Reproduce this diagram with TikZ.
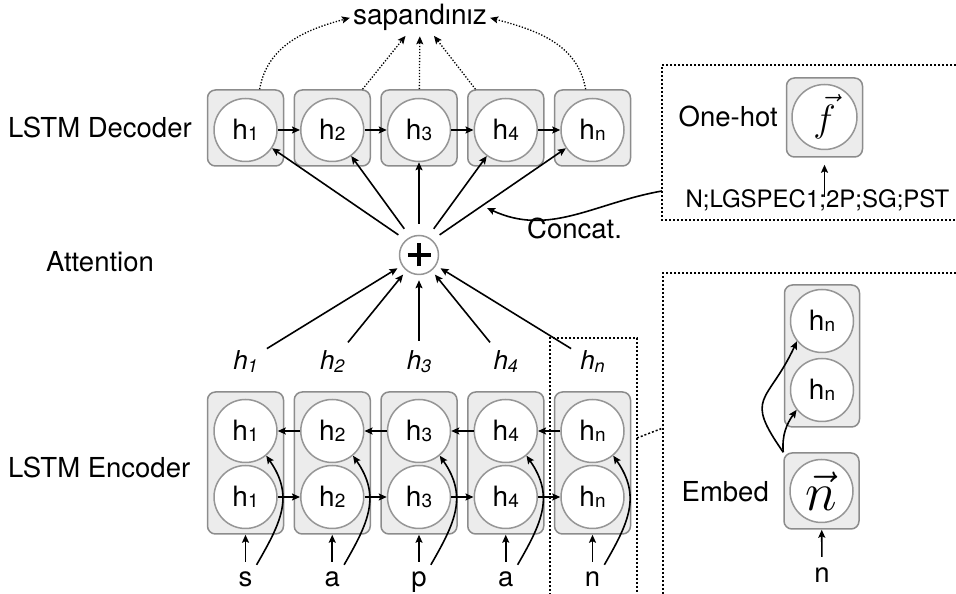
\RequirePackage{fix-cm}
\documentclass[tikz,border=0pt]{standalone}
\usepackage{fontspec}
\setmainfont{TeX Gyre Heros}
\usetikzlibrary{arrows.meta}
\definecolor{boxfill}{RGB}{236,236,236}
\definecolor{boxgray}{RGB}{140,140,140}
\definecolor{cellgray}{RGB}{150,150,150}
\newcommand\LblFont{\fontsize{27.5}{30}\selectfont}
\newcommand\SapFont{\fontsize{28}{30}\selectfont}
\newcommand\CellFont{\fontsize{28}{30}\selectfont}
\newcommand\FeatFont{\fontsize{24}{26}\selectfont}
\newcommand\SubH[1]{h\raisebox{-1.5pt}{\fontsize{19}{19}\selectfont #1}}
\newcommand\ItH[1]{{\fontsize{26}{28}\selectfont\itshape h\raisebox{-2.5pt}{\fontsize{18}{18}\selectfont #1}}}
\tikzset{
  cbox/.style={draw=boxgray, fill=boxfill, line width=1.5pt, rounded corners=8pt,
    minimum width=76pt, minimum height=76pt, inner sep=0pt},
  tbox/.style={cbox, minimum height=142pt},
  cell/.style={circle, draw=cellgray, fill=white, line width=1.5pt, minimum size=63pt,
    inner sep=0pt, font=\CellFont},
  arr/.style={-{Stealth[length=8pt,width=7pt,inset=1.5pt]}, line width=1.6pt},
  dotarr/.style={arr, line width=1.3pt, dash pattern=on 1.3pt off 1.7pt},
  dotbox/.style={line width=1.5pt, dash pattern=on 2pt off 2pt},
  lbl/.style={font=\LblFont, inner sep=0pt},
  letter/.style={font=\LblFont, anchor=base, text height=14pt, text depth=5pt,
    inner xsep=4pt, inner ysep=8pt},
}
\begin{document}
\begin{tikzpicture}[x=1pt,y=1pt]
\useasboundingbox (0,0) rectangle (956,594);

% left labels
\node[lbl, anchor=base west] (declbl) at (8,456) {LSTM Decoder};
\node[lbl, anchor=base] (attlbl) at (100,322) {Attention};
\node[lbl, anchor=base west] (enclbl) at (8,116) {LSTM Encoder};

% output word
\node[font=\SapFont, inner sep=3pt, anchor=base] (sap) at (420,569) {sapandınız};

% decoder
\foreach \i/\x/\s in {1/245.5/1, 2/332.25/2, 3/419/3, 4/505.75/4, 5/592.5/n} {
  \node[cbox] (db\i) at (\x,466) {};
  \node[cell] (dc\i) at (\x,464) {\SubH{\s}};
}
\foreach \a/\b in {1/2, 2/3, 3/4, 4/5} {
  \draw[arr] (dc\a) -- (dc\b);
}

% decoder to output (dotted)
\draw[dotarr] (db1.70) to[out=80,in=195] (sap.west);
\draw[dotarr, shorten >=2pt] (db2.52) -- (sap);
\draw[dotarr, shorten >=2pt] (db3) -- (sap);
\draw[dotarr, shorten >=2pt] (db4.128) -- (sap);
\draw[dotarr] (db5.100) to[out=100,in=-15] (sap.east);

% attention
\node[circle, draw=cellgray, fill=white, line width=1.5pt, minimum size=39pt,
  inner sep=0pt] (plus) at (419,339) {};
\draw[line width=3.2pt] (plus.center) +(-11.5,0) -- +(11.5,0);
\draw[line width=3.2pt] (plus.center) +(0,-11.5) -- +(0,11.5);
\coordinate (pc) at (419,345);
\foreach \i in {1,...,5} {
  \draw[arr, shorten <=25pt] (pc) -- (dc\i);
}

% encoder
\foreach \i/\x/\s/\c in {1/245.5/1/s, 2/332.25/2/a, 3/419/3/p, 4/505.75/4/a, 5/592.5/n/n} {
  \node[tbox] (eb\i) at (\x,131) {};
  \node[cell] (et\i) at (\x,163) {\SubH{\s}};
  \node[cell] (ed\i) at (\x,97) {\SubH{\s}};
  \node[letter] (el\i) at (\x,7) {\c};
  \node[inner sep=3pt, anchor=base] (hl\i) at (\x,224) {\ItH{\s}};
  \draw[arr, shorten <=3pt] (el\i) -- (eb\i);
  \draw[arr] (el\i.north east) to[out=60,in=-55,looseness=1.15] (et\i.-50);
  \draw[arr, shorten <=7pt, shorten >=5pt] (hl\i) -- (plus);
}
\foreach \a/\b in {1/2, 2/3, 3/4, 4/5} {
  \draw[arr] (et\b) -- (et\a);
  \draw[arr] (ed\a) -- (ed\b);
}

% dotted frames
\draw[dotbox] (550,-5) -- (550,256) -- (637,256) -- (637,-5);
\draw[dotbox] (960,529) -- (662,529) -- (662,374) -- (960,374);
\draw[dotbox] (960,321) -- (663,321) -- (663,-5);
\coordinate (lnkA) at (637,156);
\coordinate (lnkB) at (663,166);
\draw[dotbox] (lnkA) -- (lnkB);

% one-hot
\node[cbox, minimum height=79pt] (ohb) at (824.5,476.5) {};
\node[cell, minimum size=65pt] (ohc) at (824.5,477) {\fontsize{38}{38}\selectfont$\vec{f}$};
\node[lbl, anchor=base east] (ohl) at (778,467) {One-hot};
\node[font=\FeatFont, inner sep=0pt, anchor=base] (feat) at (817.5,386) {N;LGSPEC1;2P;SG;PST};
\coordinate (fstart) at (824.5,397);
\draw[arr, shorten >=7pt] (fstart) -- (ohb);

% concat
\coordinate (cst) at (662,403);
\coordinate (cend) at (487,386);
\draw[arr] (cst) to[out=190,in=-25] (cend);
\node[lbl, anchor=base west] (concat) at (527,355) {Concat.};

% embed detail
\node[tbox, minimum width=75pt] (rbox) at (822,238) {};
\node[cell] (rt) at (822,273) {\SubH{n}};
\node[cell] (rb) at (822,204) {\SubH{n}};
\node[cbox, minimum width=75pt] (emb) at (821.5,103) {};
\node[cell] (embc) at (821.5,103) {\fontsize{54}{54}\selectfont$\vec{n}$};
\node[lbl, anchor=base east] (embl) at (769,92) {Embed};
\node[letter] (nin) at (822,11) {n};
\draw[arr, shorten <=4pt] (nin) -- (emb);
\draw[arr] (emb.north west) to[out=95,in=-125] (rb.218);
\draw[arr] (emb.north west) to[out=125,in=-115,looseness=1.6] (rt.219);
\end{tikzpicture}
\end{document}
